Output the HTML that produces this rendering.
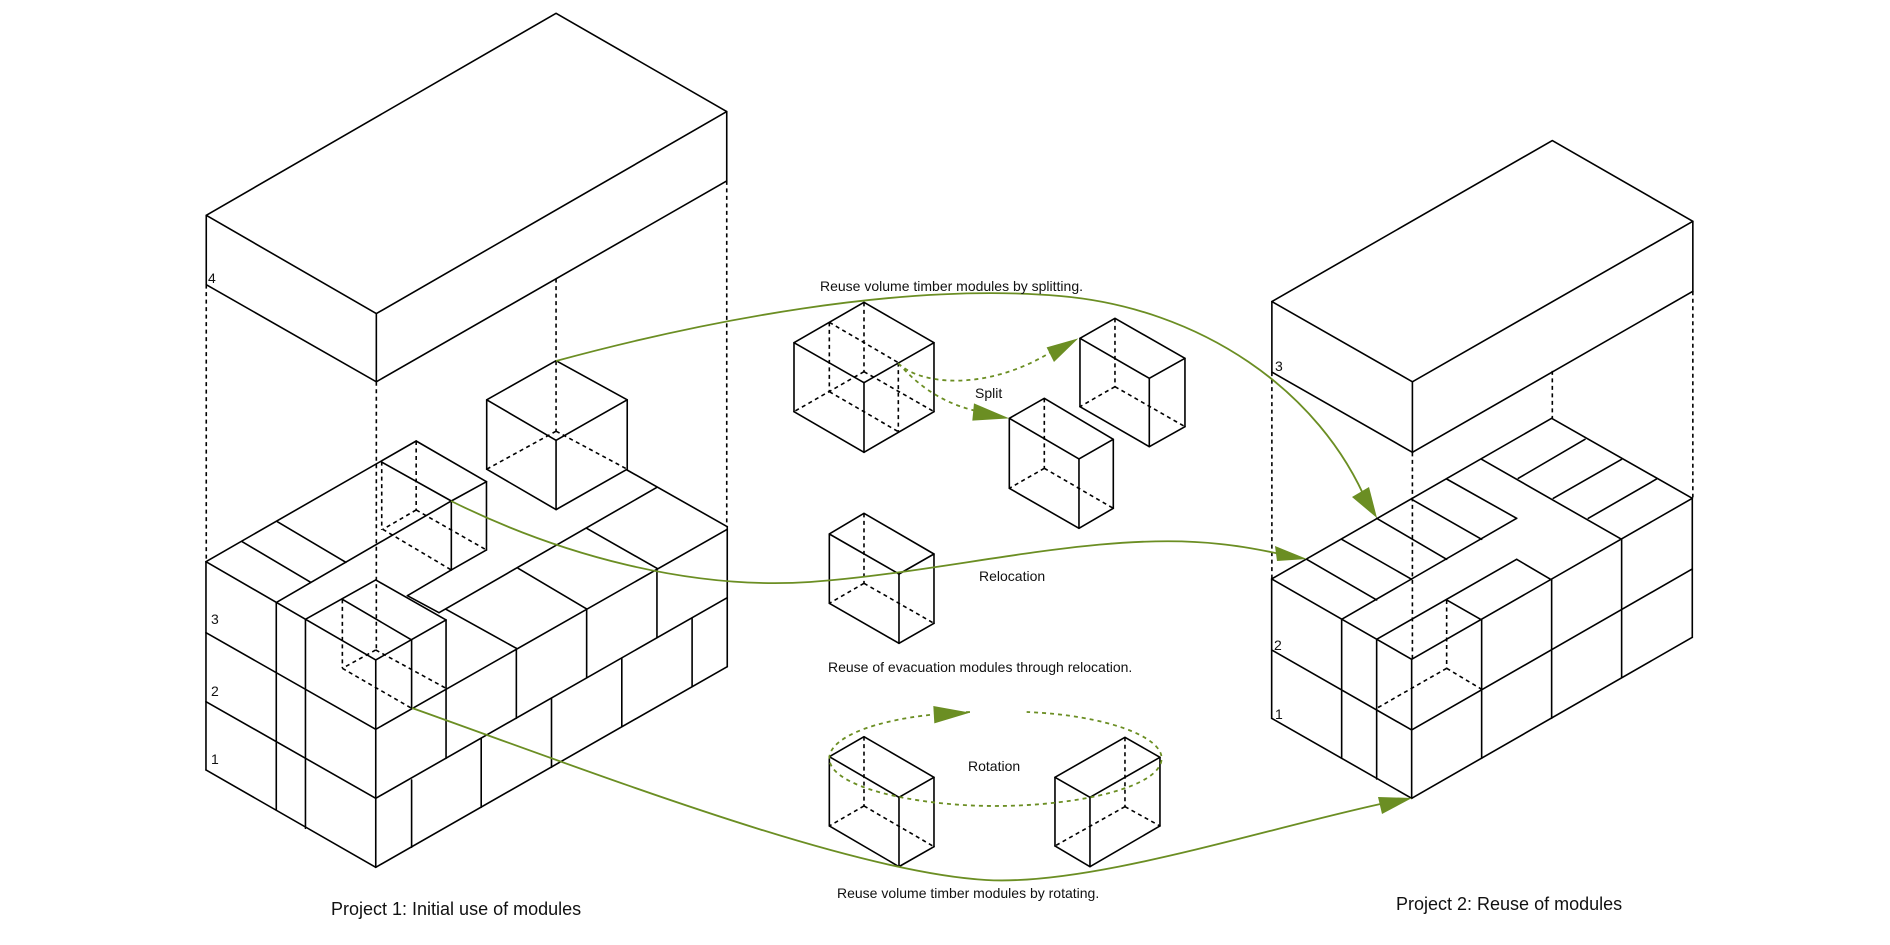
<!DOCTYPE html>
<html><head><meta charset="utf-8"><style>
html,body{margin:0;padding:0;background:#fff;}
svg{display:block;}
text{font-family:"Liberation Sans",Arial,sans-serif;fill:#111;}
.s line,.s polyline,.s polygon,.s path,.s ellipse{vector-effect:non-scaling-stroke;stroke:#000;stroke-width:1.6;fill:none;stroke-linejoin:round;stroke-linecap:round;}
.s .d{stroke-dasharray:4 3.5;stroke-linecap:butt;}
.g{stroke:#6b8e23;stroke-width:1.8;fill:none;}
.gd,.s .gd{stroke:#6b8e23;stroke-width:1.8;fill:none;stroke-dasharray:4 4;vector-effect:non-scaling-stroke;stroke-linecap:butt;}
.gf,.s .gf{fill:#6b8e23;stroke:none;}
</style></head><body>
<svg width="1890" height="945" viewBox="0 0 1890 945" xmlns="http://www.w3.org/2000/svg">
<rect width="1890" height="945" fill="#fff"/>

<g class="s" transform="scale(0.6031)">
<polygon points="922,22 1205,185 624,520 342,357"/>
<line x1="342" y1="357" x2="342" y2="472"/>
<line x1="624" y1="520" x2="624" y2="633"/>
<line x1="1205" y1="185" x2="1205" y2="300"/>
<polyline points="342,472 624,633 1205,300"/>
<line class="d" x1="342" y1="472" x2="342" y2="933"/>
<line class="d" x1="624" y1="633" x2="624" y2="1080"/>
<line class="d" x1="1205" y1="300" x2="1205" y2="873"/>
<line class="d" x1="922" y1="462" x2="922" y2="715"/>
<polygon points="922,598 1040,663 922,730 807,663"/>
<line x1="807" y1="663" x2="807" y2="778"/>
<line x1="922" y1="730" x2="922" y2="845"/>
<line x1="1040" y1="663" x2="1040" y2="778"/>
<polyline points="807,778 922,845 1040,778"/>
<line class="d" x1="922" y1="715" x2="807" y2="778"/>
<line class="d" x1="922" y1="715" x2="1040" y2="778"/>
</g>
<text x="208" y="283" font-size="14">4</text>

<g class="s" transform="translate(200,430) scale(0.3515,0.3333)">
<line x1="17" y1="395" x2="17" y2="1020"/>
<line x1="17" y1="1020" x2="500" y2="1312"/>
<line x1="500" y1="1312" x2="1500" y2="710"/>
<line x1="1500" y1="710" x2="1500" y2="290"/>
<line x1="17" y1="608" x2="500" y2="898"/>
<line x1="17" y1="815" x2="500" y2="1105"/>
<line x1="500" y1="1105" x2="1500" y2="503"/>
<line x1="500" y1="690" x2="500" y2="1312"/>
<line x1="217" y1="517" x2="217" y2="1140"/>
<line x1="300" y1="568" x2="300" y2="1195"/>
<line x1="17" y1="395" x2="500" y2="690"/>
<line x1="17" y1="395" x2="615" y2="33"/>
<line x1="120" y1="335" x2="315" y2="457"/>
<line x1="220" y1="275" x2="415" y2="397"/>
<line x1="218" y1="517" x2="715" y2="213"/>
<line x1="515" y1="95" x2="715" y2="213"/>
<line x1="615" y1="33" x2="815" y2="155"/>
<line x1="715" y1="213" x2="815" y2="155"/>
<line x1="715" y1="213" x2="715" y2="420"/>
<line x1="815" y1="155" x2="815" y2="360"/>
<line x1="715" y1="420" x2="815" y2="360"/>
<line x1="715" y1="420" x2="590" y2="497"/>
<line x1="590" y1="497" x2="680" y2="548"/>
<line x1="300" y1="568" x2="500" y2="450"/>
<line x1="500" y1="450" x2="700" y2="570"/>
<line x1="500" y1="690" x2="700" y2="570"/>
<line x1="405" y1="508" x2="602" y2="630"/>
<line x1="602" y1="630" x2="602" y2="835"/>
<line x1="700" y1="570" x2="700" y2="985"/>
<line x1="500" y1="898" x2="1500" y2="298"/>
<line x1="680" y1="548" x2="1300" y2="172"/>
<line x1="700" y1="538" x2="900" y2="655"/>
<line x1="905" y1="415" x2="1100" y2="537"/>
<line x1="1100" y1="295" x2="1300" y2="415"/>
<line x1="1215" y1="120" x2="1500" y2="290"/>
<line x1="900" y1="655" x2="900" y2="865"/>
<line x1="1100" y1="537" x2="1100" y2="743"/>
<line x1="1300" y1="415" x2="1300" y2="623"/>
<line x1="602" y1="1050" x2="602" y2="1252"/>
<line x1="800" y1="925" x2="800" y2="1132"/>
<line x1="1000" y1="805" x2="1000" y2="1012"/>
<line x1="1200" y1="685" x2="1200" y2="890"/>
<line x1="1400" y1="565" x2="1400" y2="770"/>
<line class="d" x1="615" y1="33" x2="615" y2="240"/>
<line class="d" x1="615" y1="240" x2="520" y2="298"/>
<line class="d" x1="615" y1="240" x2="815" y2="360"/>
<line class="d" x1="520" y1="298" x2="715" y2="420"/>
<line class="d" x1="517" y1="95" x2="517" y2="300"/>
<line class="d" x1="405" y1="508" x2="405" y2="715"/>
<line class="d" x1="500" y1="660" x2="405" y2="715"/>
<line class="d" x1="500" y1="660" x2="700" y2="775"/>
<line class="d" x1="405" y1="715" x2="602" y2="835"/>
</g>
<text x="211" y="624" font-size="14">3</text>
<text x="211" y="696" font-size="14">2</text>
<text x="211" y="764" font-size="14">1</text>

<g class="s" transform="translate(945,0) scale(0.6031)">
<polygon points="1007,233 1240,367 775,633 542,500"/>
<line x1="542" y1="500" x2="542" y2="617"/>
<line x1="775" y1="633" x2="775" y2="750"/>
<line x1="1240" y1="367" x2="1240" y2="483"/>
<polyline points="542,617 775,750 1240,483"/>
<line class="d" x1="542" y1="617" x2="542" y2="960"/>
<line class="d" x1="775" y1="750" x2="775" y2="1095"/>
<line class="d" x1="1240" y1="483" x2="1240" y2="825"/>
<line class="d" x1="1007" y1="615" x2="1007" y2="693"/>
</g>
<text x="1275" y="371" font-size="14">3</text>

<g class="s" transform="translate(1260,400) scale(0.3333)">
<line x1="35" y1="537" x2="35" y2="955"/>
<line x1="35" y1="955" x2="455" y2="1195"/>
<line x1="455" y1="1195" x2="1297" y2="712"/>
<line x1="1297" y1="712" x2="1297" y2="295"/>
<line x1="35" y1="750" x2="455" y2="990"/>
<line x1="455" y1="990" x2="1297" y2="507"/>
<line x1="35" y1="537" x2="455" y2="778"/>
<line x1="245" y1="658" x2="245" y2="1075"/>
<line x1="350" y1="720" x2="350" y2="1137"/>
<line x1="455" y1="778" x2="455" y2="1195"/>
<line x1="455" y1="778" x2="1297" y2="295"/>
<line x1="665" y1="660" x2="665" y2="1075"/>
<line x1="875" y1="540" x2="875" y2="955"/>
<line x1="1085" y1="418" x2="1085" y2="832"/>
<line x1="350" y1="718" x2="770" y2="478"/>
<line x1="770" y1="478" x2="875" y2="540"/>
<line x1="560" y1="600" x2="665" y2="660"/>
<line x1="35" y1="537" x2="875" y2="55"/>
<line x1="875" y1="55" x2="1297" y2="295"/>
<line x1="140" y1="478" x2="350" y2="600"/>
<line x1="245" y1="418" x2="455" y2="538"/>
<line x1="350" y1="355" x2="560" y2="478"/>
<line x1="455" y1="298" x2="665" y2="418"/>
<line x1="560" y1="237" x2="770" y2="355"/>
<line x1="245" y1="658" x2="770" y2="355"/>
<line x1="665" y1="178" x2="1085" y2="418"/>
<line x1="775" y1="235" x2="975" y2="118"/>
<line x1="880" y1="295" x2="1085" y2="178"/>
<line x1="985" y1="355" x2="1190" y2="237"/>
<line class="d" x1="560" y1="600" x2="560" y2="805"/>
<line class="d" x1="560" y1="805" x2="350" y2="925"/>
<line class="d" x1="560" y1="805" x2="665" y2="868"/>
</g>
<text x="1274" y="650" font-size="14">2</text>
<text x="1275" y="719" font-size="14">1</text>

<g class="s" transform="translate(780,270) scale(0.3333)">
<polygon points="252,97 462,218 252,338 42,218"/>
<line x1="42" y1="218" x2="42" y2="425"/>
<line x1="252" y1="338" x2="252" y2="547"/>
<line x1="462" y1="218" x2="462" y2="425"/>
<polyline points="42,425 252,547 462,425"/>
<line class="d" x1="252" y1="97" x2="252" y2="305"/>
<line class="d" x1="252" y1="305" x2="42" y2="425"/>
<line class="d" x1="252" y1="305" x2="462" y2="425"/>
<line class="d" x1="148" y1="157" x2="148" y2="365"/>
<line class="d" x1="148" y1="157" x2="355" y2="278"/>
<line class="d" x1="355" y1="278" x2="355" y2="485"/>
<line class="d" x1="148" y1="365" x2="355" y2="485"/>

<polygon points="793,385 1000,508 897,567 688,445"/>
<line x1="688" y1="445" x2="688" y2="655"/>
<line x1="897" y1="567" x2="897" y2="775"/>
<line x1="1000" y1="508" x2="1000" y2="715"/>
<polyline points="688,655 897,775 1000,715"/>
<line class="d" x1="793" y1="385" x2="793" y2="595"/>
<line class="d" x1="793" y1="595" x2="688" y2="655"/>
<line class="d" x1="793" y1="595" x2="1000" y2="715"/>

<polygon points="1005,145 1215,265 1108,325 900,205"/>
<line x1="900" y1="205" x2="900" y2="410"/>
<line x1="1108" y1="325" x2="1108" y2="530"/>
<line x1="1215" y1="265" x2="1215" y2="470"/>
<polyline points="900,410 1108,530 1215,470"/>
<line class="d" x1="1005" y1="145" x2="1005" y2="350"/>
<line class="d" x1="1005" y1="350" x2="900" y2="410"/>
<line class="d" x1="1005" y1="350" x2="1215" y2="470"/>

<path class="gd" d="M355,280 C420,345 620,365 815,245"/>
<polygon class="gf" points="895,205 800,232 822,276"/>
<path class="gd" d="M355,280 C400,330 470,395 585,422"/>
<polygon class="gf" points="688,445 582,400 577,452"/>
</g>

<g class="s" transform="translate(780,520) scale(0.3333)">
<polygon points="252,-20 462,102 357,162 148,42"/>
<line x1="148" y1="42" x2="148" y2="250"/>
<line x1="357" y1="162" x2="357" y2="370"/>
<line x1="462" y1="102" x2="462" y2="310"/>
<polyline points="148,250 357,370 462,310"/>
<line class="d" x1="252" y1="-20" x2="252" y2="190"/>
<line class="d" x1="252" y1="190" x2="148" y2="250"/>
<line class="d" x1="252" y1="190" x2="462" y2="310"/>

<polygon points="252,650 462,772 357,832 148,710"/>
<line x1="148" y1="710" x2="148" y2="918"/>
<line x1="357" y1="832" x2="357" y2="1040"/>
<line x1="462" y1="772" x2="462" y2="980"/>
<polyline points="148,918 357,1040 462,980"/>
<line class="d" x1="252" y1="650" x2="252" y2="858"/>
<line class="d" x1="252" y1="858" x2="148" y2="918"/>
<line class="d" x1="252" y1="858" x2="462" y2="980"/>

<polygon points="1035,652 1140,712 930,832 825,772"/>
<line x1="825" y1="772" x2="825" y2="978"/>
<line x1="930" y1="832" x2="930" y2="1040"/>
<line x1="1140" y1="712" x2="1140" y2="918"/>
<polyline points="825,978 930,1040 1140,918"/>
<line class="d" x1="1035" y1="652" x2="1035" y2="860"/>
<line class="d" x1="1035" y1="860" x2="825" y2="978"/>
<line class="d" x1="1035" y1="860" x2="1140" y2="918"/>

<path class="gd" d="M570,576 C300,586 148,650 148,715 C148,800 400,858 645,858 C900,858 1145,800 1145,715 C1145,650 980,586 740,576"/>
<polygon class="gf" points="460,558 570,578 463,610"/>
</g>

<path class="g" d="M556,361 C700,322 900,282 1060,296 C1200,308 1320,390 1368,505"/>
<polygon class="gf" points="1377,518 1352,497 1369,487"/>
<path class="g" d="M451,501 C560,555 690,590 810,582 C950,572 1100,530 1220,544 C1250,547 1270,552 1285,555"/>
<polygon class="gf" points="1307,559 1275,546 1277,561"/>
<path class="g" d="M412,708 C600,775 850,872 986,880 C1090,886 1260,830 1385,803"/>
<polygon class="gf" points="1412,798 1378,797 1382,814"/>

<text x="820" y="291" font-size="14">Reuse volume timber modules by splitting.</text>
<text x="975" y="398" font-size="14">Split</text>
<text x="979" y="581" font-size="14">Relocation</text>
<text x="828" y="672" font-size="14">Reuse of evacuation modules through relocation.</text>
<text x="968" y="771" font-size="14">Rotation</text>
<text x="837" y="898" font-size="14">Reuse volume timber modules by rotating.</text>
<text x="331" y="915" font-size="18">Project 1: Initial use of modules</text>
<text x="1396" y="910" font-size="18">Project 2: Reuse of modules</text>
</svg>
</body></html>
